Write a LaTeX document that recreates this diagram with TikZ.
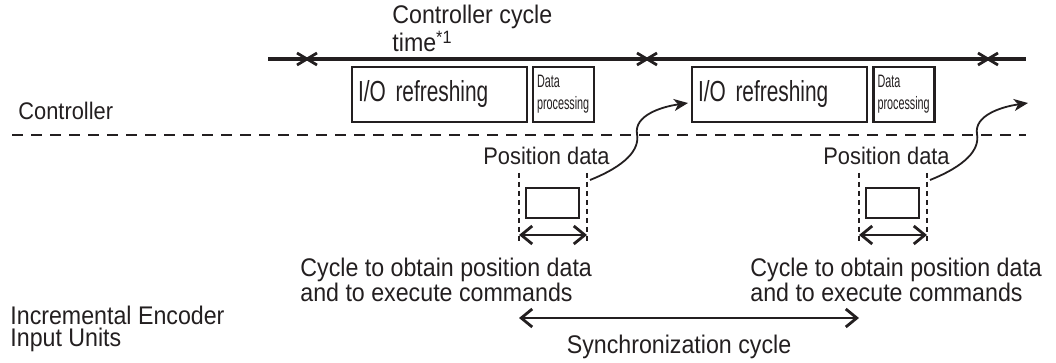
\documentclass[tikz,border=0pt]{standalone}
\usepackage{fontspec}
\setmainfont{Liberation Sans}
\newfontfamily\labfont[FakeStretch=0.91]{Liberation Sans}
\newfontfamily\iofont[FakeStretch=0.72]{Liberation Sans}
\newfontfamily\dpfont[FakeStretch=0.6]{Liberation Sans}
\usetikzlibrary{arrows.meta}
\definecolor{ink}{HTML}{231F20}

\begin{document}
\begin{tikzpicture}[x=0.5pt,y=-0.5pt,ink,
  font=\labfont\fontsize{12.75}{11.4}\selectfont,
  txt/.style={inner sep=0pt,align=left,anchor=base west},
  iobox/.style={draw=ink,line width=1.1pt,minimum height=27.5pt,text width=81.5pt,
    inner xsep=3pt,inner ysep=0pt,align=left,font=\iofont\fontsize{14.5}{14.5}\selectfont},
  dpbox/.style={draw=ink,line width=1.1pt,minimum height=27.5pt,text width=26.5pt,
    inner xsep=2pt,inner ysep=0pt,align=left,font=\dpfont\fontsize{9}{11}\selectfont},
  smallbox/.style={draw=ink,line width=1.1pt,minimum width=26.5pt,minimum height=15pt,inner sep=0pt},
  cyc/.style={line width=1.6pt},
  xmark/.style={line width=1.4pt},
  divide/.style={line width=0.75pt,dash pattern=on 5.5pt off 4pt},
  gate/.style={line width=0.7pt,dash pattern=on 2.5pt off 2pt},
  dbl/.style={line width=1.4pt,{Straight Barb[length=5.5pt,width=9pt]}-{Straight Barb[length=5.5pt,width=9pt]}},
  flow/.style={line width=0.9pt,-{Stealth[length=7pt,width=6pt,inset=2pt]}}]
  \useasboundingbox (0,0) rectangle (1056,363);
  % controller cycle line
  \coordinate (tl) at (268,59);
  \coordinate (tr) at (1026,59);
  \draw[cyc] (tl) -- (tr);
  \foreach \xm in {307,647,988}
    \draw[xmark] (\xm-10,53) -- (\xm+10,65) (\xm-10,65) -- (\xm+10,53);
  \node[txt] (cyctime) at (392,52) {Controller cycle\\time\textsuperscript{*1}};
  % controller tasks
  \node[iobox] (io1) at (439.5,94.5) {I/O refreshing};
  \node[dpbox] (dp1) at (563.5,94.5) {Data\\processing};
  \node[iobox] (io2) at (779.5,94.5) {I/O refreshing};
  \node[dpbox] (dp2) at (904,94.5) {Data\\processing};
  % boundary between controller and units
  \coordinate (dl) at (12,135);
  \coordinate (dr) at (1026,135);
  \draw[divide] (dl) -- (dr);
  \node[txt,font=\labfont\fontsize{12}{11.4}\selectfont] (ctrl) at (18,120) {Controller};
  \node[txt] (encunit) at (10,347) {Incremental Encoder\\Input Units};
  % position data windows
  \foreach \s/\n in {0/1,340/2} {
    \node[txt,font=\labfont\fontsize{12}{11.4}\selectfont] (pdtxt\n) at (483+\s,165) {Position data};
    \node[smallbox] (pd\n) at (552.5+\s,203) {};
    \coordinate (ga\n) at (519+\s,173);
    \coordinate (gb\n) at (587+\s,173);
    \coordinate (ha\n) at (519+\s,243);
    \coordinate (hb\n) at (587+\s,243);
    \draw[gate] (ga\n) -- (ha\n);
    \draw[gate] (gb\n) -- (hb\n);
    \coordinate (da\n) at (519+\s,235);
    \coordinate (db\n) at (587+\s,235);
    \draw[dbl] (da\n) -- (db\n);
    \coordinate (cs\n) at (590+\s,180);
    \coordinate (ce\n) at (688+\s,103);
    \draw[flow] (cs\n) .. controls (625+\s,166) and (640+\s,150) .. (637+\s,134)
      .. controls (634+\s,116) and (660+\s,107) .. (ce\n);
  }
  \node[txt] (obtain1) at (300,302) {Cycle to obtain position data\\and to execute commands};
  \node[txt] (obtain2) at (750,302) {Cycle to obtain position data\\and to execute commands};
  % synchronization cycle
  \coordinate (sa) at (519,318);
  \coordinate (sb) at (859,318);
  \draw[dbl] (sa) -- (sb);
  \node[txt,anchor=base] (sync) at (679,354) {Synchronization cycle};
\end{tikzpicture}
\end{document}
